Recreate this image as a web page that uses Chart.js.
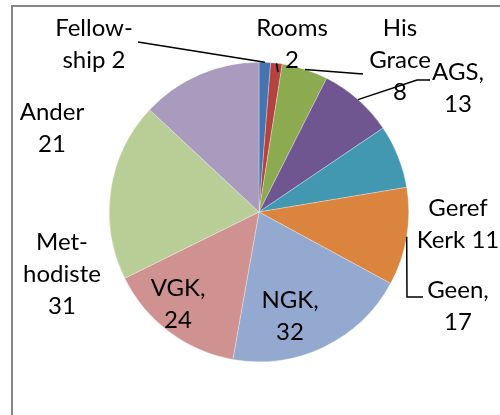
<!DOCTYPE html>
<html>
<head>
<meta charset="utf-8">
<script src="https://cdn.jsdelivr.net/npm/chart.js@4.4.1/dist/chart.umd.min.js"></script>
<style>
  body { margin: 0; background: #fff; }
  #wrap { position: relative; width: 500px; height: 415px; overflow: hidden; }
  #frame { position: absolute; left: 11px; top: 5px; width: 600px; height: 500px; border: 2px solid #878787; }
  #pie { position: absolute; left: 0; top: 0; }
</style>
</head>
<body>
<div id="wrap">
  <div id="frame"></div>
  <canvas id="pie" width="500" height="415"></canvas>
</div>
<script>
// church data
const categories = ["Fellowship", "Rooms", "His Grace", "AGS", "Geref Kerk", "Geen", "NGK", "VGK", "Methodiste", "Ander"];
const counts = [2, 2, 8, 13, 11, 17, 32, 24, 31, 21];
// label text as Excel wrapped it, value gets added to the last line
const labelParts = [["Fellow-", "ship "], ["Rooms", ""], ["His", "Grace", ""], ["AGS,", ""], ["Geref", "Kerk "], ["Geen,", ""], ["NGK,", ""], ["VGK,", ""], ["Met-", "hodiste", ""], ["Ander", ""]];
const sliceColors = ["#4674B0", "#B4423F", "#8CAA4F", "#6F5691", "#4298B0", "#DB843D", "#93A9CF", "#D09291", "#B9CD97", "#A99BBD"];

// where each label sits (centre of first line) and leader line bends
const labelAt = [[94, 28], [292, 28], [400, 28], [458, 72], [458, 208], [458, 290], [290, 300], [178, 288], [62, 242], [52, 112]];
const leaders = [[[138, 42]], [[278, 72]], [[363, 74]], [[417, 80], [430, 80]], null, [[407, 297], [423, 297]], null, null, null, null];

const labelPlugin = {
    id: "labels",
    afterDatasetsDraw(chart) {
        let ctx = chart.ctx;
        let arcs = chart.getDatasetMeta(0).data;
        ctx.save();
        ctx.strokeStyle = "#000";
        ctx.lineWidth = 1.5;
        for (let i = 0; i < arcs.length; i++) {
            if (!leaders[i]) continue;
            let a = arcs[i];
            let mid = (a.startAngle + a.endAngle) / 2;
            ctx.beginPath();
            ctx.moveTo(a.x + Math.cos(mid) * a.outerRadius, a.y + Math.sin(mid) * a.outerRadius);
            leaders[i].forEach(p => ctx.lineTo(p[0], p[1]));
            ctx.stroke();
        }
        ctx.fillStyle = "#000";
        ctx.font = "24px Lato";
        ctx.textAlign = "center";
        ctx.textBaseline = "middle";
        for (let i = 0; i < counts.length; i++) {
            let lines = labelParts[i].slice();
            lines[lines.length - 1] = lines[lines.length - 1] + counts[i];
            for (let j = 0; j < lines.length; j++) {
                ctx.fillText(lines[j], labelAt[i][0], labelAt[i][1] + j * 32);
            }
        }
        ctx.restore();
    }
};

new Chart("pie", {
    type: "pie",
    data: {
        labels: categories,
        datasets: [{
            data: counts,
            backgroundColor: sliceColors,
            borderColor: "rgba(255,255,255,0.6)",
            borderWidth: 0.5
        }]
    },
    options: {
        responsive: false,
        animation: false,
        layout: { padding: { left: 109, right: 91, top: 62, bottom: 53 } },
        plugins: {
            legend: { display: false },
            tooltip: { enabled: false }
        }
    },
    plugins: [labelPlugin]
});
</script>
</body>
</html>
